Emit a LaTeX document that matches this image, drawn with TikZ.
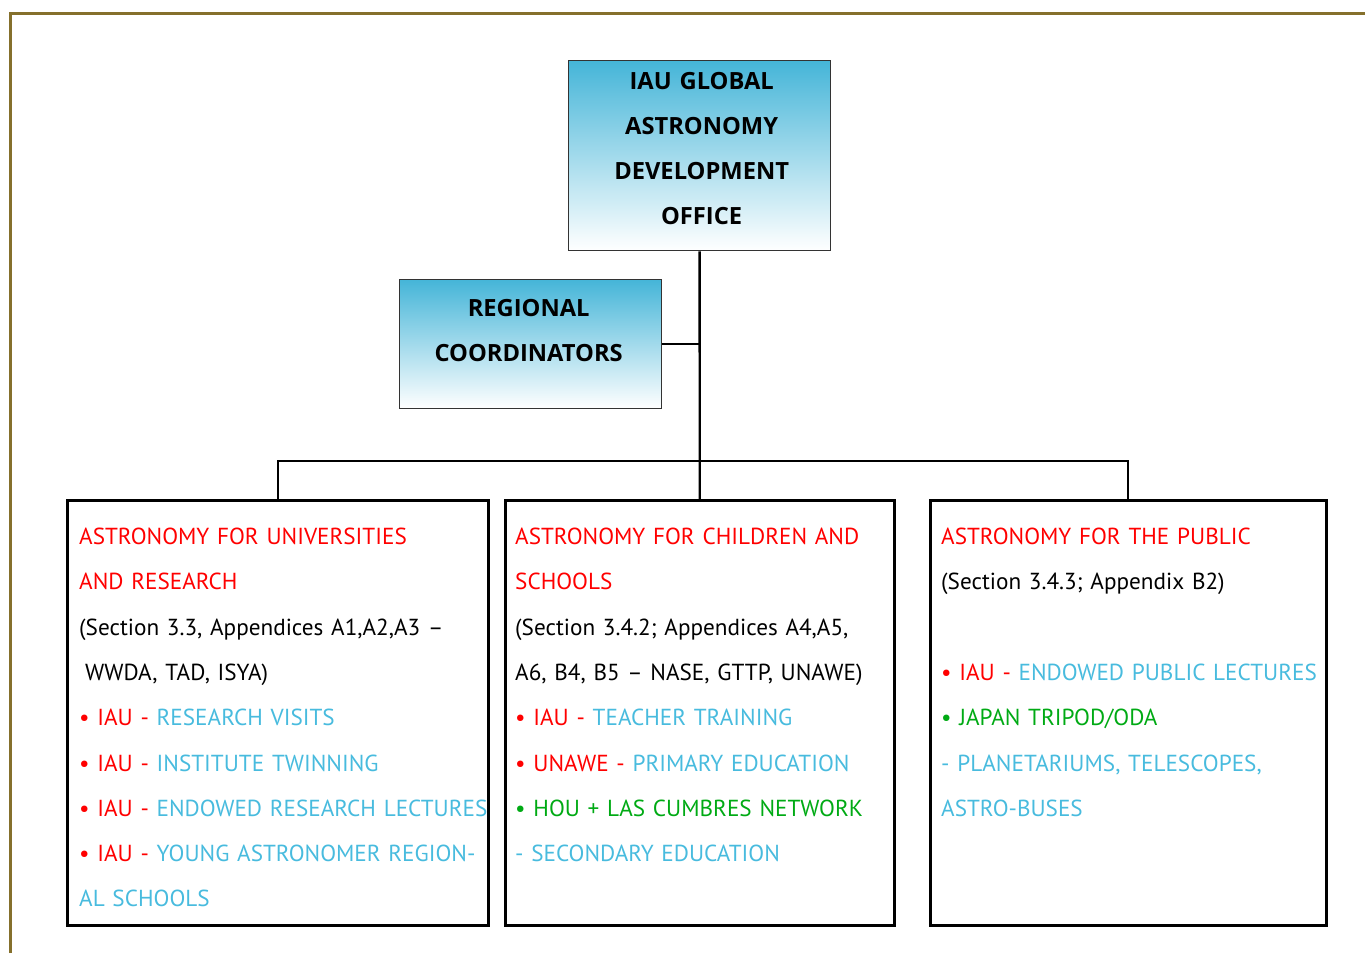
\documentclass[tikz,border=0pt]{standalone}
\usepackage{fontspec}
\setmainfont{PT Sans}
\newfontfamily\headfont{Open Sans}
\usetikzlibrary{positioning}

\definecolor{frameolive}{RGB}{133,112,44}
\definecolor{iaured}{RGB}{255,0,0}
\definecolor{iaucyan}{RGB}{72,187,222}
\definecolor{iaugreen}{RGB}{0,170,20}
\definecolor{hubblue}{RGB}{69,181,216}

\newcommand{\rd}[1]{\textcolor{iaured}{#1}}
\newcommand{\cy}[1]{\textcolor{iaucyan}{#1}}
\newcommand{\gr}[1]{\textcolor{iaugreen}{#1}}

\begin{document}
\begin{tikzpicture}[x=1pt, y=-1pt, inner sep=0pt,
  hub/.style={draw=black!80, line width=1.3pt, top color=hubblue, bottom color=white, anchor=north west},
  area/.style={draw=black, line width=2.5pt, anchor=north west},
  hubtext/.style={text width=262pt, align=center, anchor=base, font=\headfont\fontsize{23.7}{45.3}\selectfont\bfseries},
  areatext/.style={text width=430pt, align=left, anchor=base west, font=\fontsize{23.2}{45.3}\selectfont},
  link/.style={line width=2.4pt}]

\useasboundingbox (0,0) rectangle (1365,953);
\draw [frameolive, line width=3pt] (10,953) -- (10,13) -- (1365,13);

\node [hub, minimum width=262pt, minimum height=190pt] (office) at (568,60) {};
\node [hub, minimum width=262pt, minimum height=129pt] (regional) at (399,279) {};
\node [area, minimum width=421pt, minimum height=425pt] (univ) at (66,499) {};
\node [area, minimum width=389pt, minimum height=425pt] (children) at (504,499) {};
\node [area, minimum width=396pt, minimum height=425pt] (public) at (929,499) {};

\node [hubtext] (officetxt) at ([xshift=2pt, yshift=-29pt]office.north) {IAU GLOBAL\\ ASTRONOMY\\ DEVELOPMENT\\ OFFICE};
\node [hubtext] (regionaltxt) at ([xshift=-2pt, yshift=-37pt]regional.north) {REGIONAL\\ COORDINATORS};

\node [areatext] (univtxt) at ([xshift=13pt, yshift=-45.5pt]univ.north west) {%
  \rd{ASTRONOMY FOR UNIVERSITIES}\\
  \rd{AND RESEARCH}\\
  (Section 3.3, Appendices A1,A2,A3 –\\
  \hspace*{6pt}WWDA, TAD, ISYA)\\
  \rd{• IAU -} \cy{RESEARCH VISITS}\\
  \rd{• IAU -} \cy{INSTITUTE TWINNING}\\
  \rd{• IAU -} \cy{ENDOWED RESEARCH LECTURES}\\
  \rd{• IAU -} \cy{YOUNG ASTRONOMER REGION-}\\
  \cy{AL SCHOOLS}};
\node [areatext] (childrentxt) at ([xshift=11pt, yshift=-45.5pt]children.north west) {%
  \rd{ASTRONOMY FOR CHILDREN AND}\\
  \rd{SCHOOLS}\\
  (Section 3.4.2; Appendices A4,A5,\\
  A6, B4, B5 – NASE, GTTP, UNAWE)\\
  \rd{• IAU -} \cy{TEACHER TRAINING}\\
  \rd{• UNAWE -} \cy{PRIMARY EDUCATION}\\
  \gr{• HOU + LAS CUMBRES NETWORK}\\
  \cy{- SECONDARY EDUCATION}};
\node [areatext] (publictxt) at ([xshift=12pt, yshift=-45.5pt]public.north west) {%
  \rd{ASTRONOMY FOR THE PUBLIC}\\
  (Section 3.4.3; Appendix B2)\\
  \mbox{}\\
  \rd{• IAU -} \cy{ENDOWED PUBLIC LECTURES}\\
  \gr{• JAPAN TRIPOD/ODA}\\
  \cy{- PLANETARIUMS, TELESCOPES,}\\
  \cy{ASTRO-BUSES}};

\coordinate (bus) at (697,461);
\draw [link] (office.south) -- (children.north);
\draw [link] (regional.east) -- (regional.east -| office.south);
\draw [link] (univ.north) |- (bus) -| (public.north);

\end{tikzpicture}
\end{document}
